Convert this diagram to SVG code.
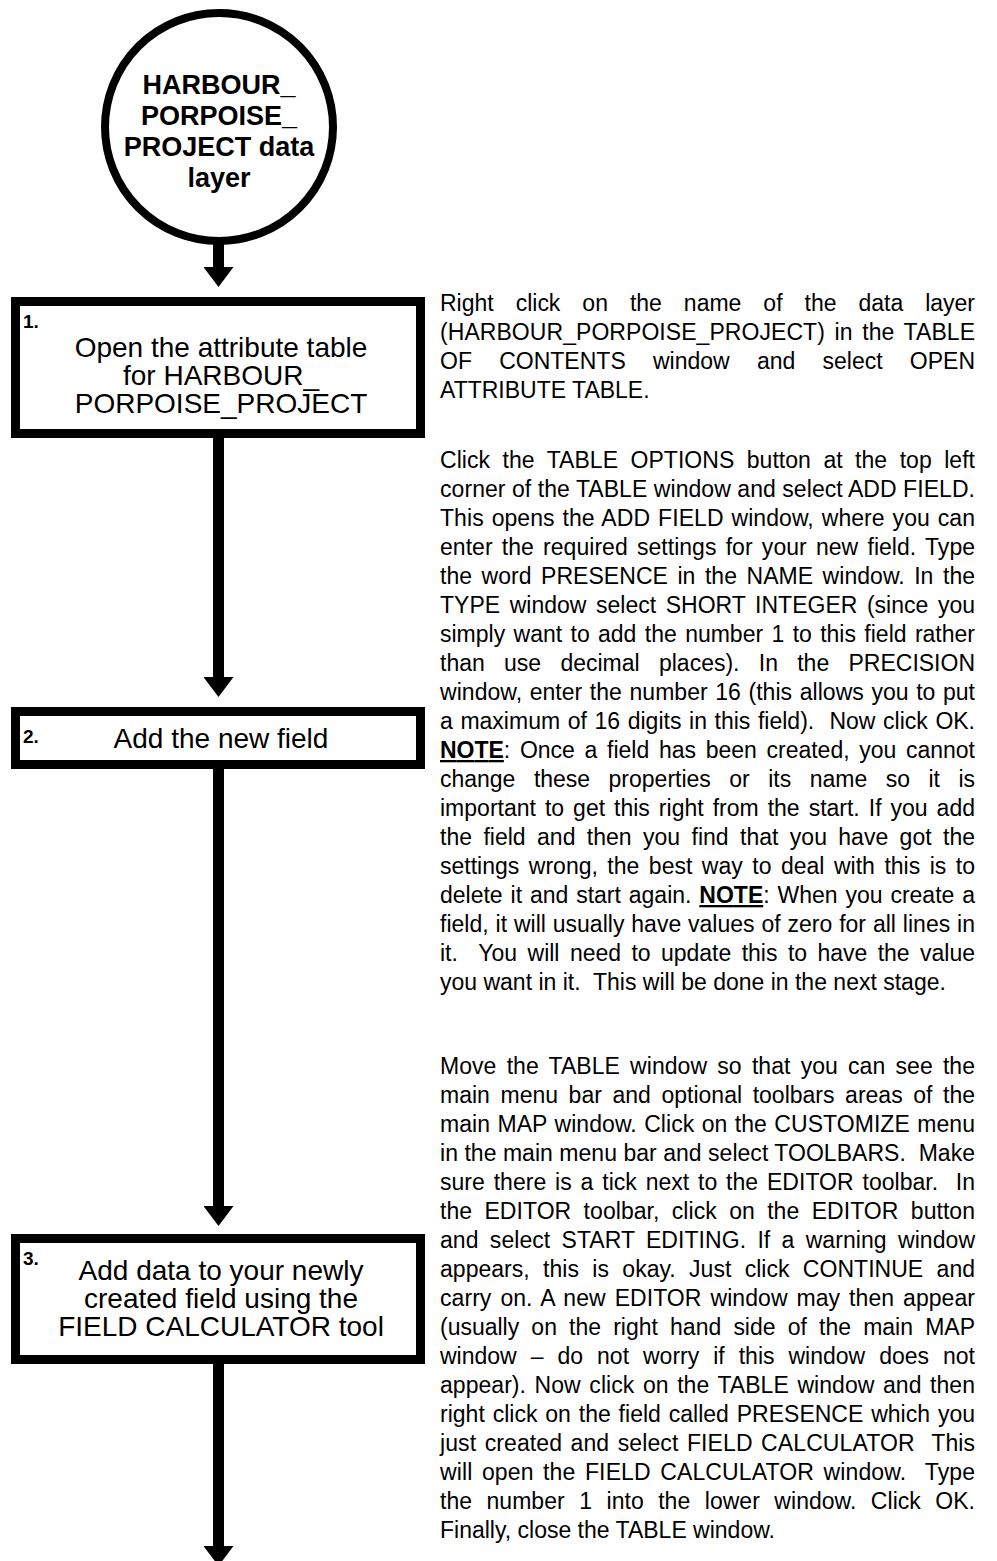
<svg xmlns="http://www.w3.org/2000/svg" width="997" height="1561" viewBox="0 0 997 1561">
  <style>
    .frame { fill: #ffffff; stroke: #000000; stroke-width: 9; }
    .ring { fill: #ffffff; stroke: #000000; stroke-width: 8; }
    .title { font-family: "Liberation Sans", Arial, sans-serif; font-size: 28px; fill: #000000; text-anchor: middle; }
    .title-bold { font-family: "Liberation Sans", Arial, sans-serif; font-size: 27px; font-weight: bold; fill: #000000; text-anchor: middle; }
    .num { font-family: "Liberation Sans", Arial, sans-serif; font-size: 19px; font-weight: bold; fill: #000000; }
    .body { font-family: "Liberation Sans", Arial, sans-serif; font-size: 23px; fill: #000000; }
    .note { font-weight: bold; text-decoration: underline; }
    .flow { stroke: #000000; stroke-width: 11; fill: none; marker-end: url(#head); }
  </style>
  <defs>
    <marker id="head" viewBox="0 0 20 30" refX="0" refY="15" markerWidth="20" markerHeight="30" markerUnits="userSpaceOnUse" orient="auto">
      <path d="M0,0 L20,15 L0,30 Z" fill="#000000"/>
    </marker>
  </defs>
  <rect width="997" height="1561" fill="#ffffff"/>

  <!-- flow connectors -->
  <g id="connectors">
    <line class="flow" x1="218.5" y1="241" x2="218.5" y2="267"/>
    <line class="flow" x1="218.5" y1="434" x2="218.5" y2="677"/>
    <line class="flow" x1="218.5" y1="765" x2="218.5" y2="1206"/>
    <line class="flow" x1="218.5" y1="1360" x2="218.5" y2="1546"/>
  </g>

  <!-- start node -->
  <g id="start">
    <circle class="ring" cx="219" cy="127" r="114"/>
    <text class="title-bold" x="219" y="94">HARBOUR_</text>
    <text class="title-bold" x="219" y="125">PORPOISE_</text>
    <text class="title-bold" x="219" y="156">PROJECT data</text>
    <text class="title-bold" x="219" y="187">layer</text>
  </g>

  <!-- step 1 -->
  <g id="step1">
    <rect class="frame" x="15.5" y="301.5" width="405" height="132"/>
    <text class="num" x="23" y="328">1.</text>
    <text class="title" x="221" y="357">Open the attribute table</text>
    <text class="title" x="221" y="385">for HARBOUR_</text>
    <text class="title" x="221" y="413">PORPOISE_PROJECT</text>
  </g>

  <!-- step 2 -->
  <g id="step2">
    <rect class="frame" x="15.5" y="711.5" width="405" height="53"/>
    <text class="num" x="23" y="743">2.</text>
    <text class="title" x="221" y="748">Add the new field</text>
  </g>

  <!-- step 3 -->
  <g id="step3">
    <rect class="frame" x="15.5" y="1238.5" width="405" height="121"/>
    <text class="num" x="23" y="1265">3.</text>
    <text class="title" x="221" y="1280">Add data to your newly</text>
    <text class="title" x="221" y="1308">created field using the</text>
    <text class="title" x="221" y="1336">FIELD CALCULATOR tool</text>
  </g>

  <!-- instructions for step 1 -->
  <g id="notes1" class="body">
    <text x="440" y="311" word-spacing="15.6" textLength="535" lengthAdjust="spacing">Right click on the name of the data layer</text>
    <text x="440" y="340" word-spacing="3.2" textLength="535" lengthAdjust="spacing">(HARBOUR_PORPOISE_PROJECT) in the TABLE</text>
    <text x="440" y="369" word-spacing="20.8" textLength="535" lengthAdjust="spacing">OF CONTENTS window and select OPEN</text>
    <text x="440" y="398">ATTRIBUTE TABLE.</text>
  </g>

  <!-- instructions for step 2 -->
  <g id="notes2" class="body">
    <text x="440" y="468" word-spacing="6" textLength="535" lengthAdjust="spacing">Click the TABLE OPTIONS button at the top left</text>
    <text x="440" y="497" textLength="535" lengthAdjust="spacing">corner of the TABLE window and select ADD FIELD.</text>
    <text x="440" y="526" word-spacing="1.5" textLength="535" lengthAdjust="spacing">This opens the ADD FIELD window, where you can</text>
    <text x="440" y="555" word-spacing="2.8" textLength="535" lengthAdjust="spacing">enter the required settings for your new field. Type</text>
    <text x="440" y="584" word-spacing="3.1" textLength="535" lengthAdjust="spacing">the word PRESENCE in the NAME window. In the</text>
    <text x="440" y="613" word-spacing="3.1" textLength="535" lengthAdjust="spacing">TYPE window select SHORT INTEGER (since you</text>
    <text x="440" y="642" word-spacing="2" textLength="535" lengthAdjust="spacing">simply want to add the number 1 to this field rather</text>
    <text x="440" y="671" word-spacing="12.9" textLength="535" lengthAdjust="spacing">than use decimal places). In the PRECISION</text>
    <text x="440" y="700" word-spacing="1.1" textLength="535" lengthAdjust="spacing">window, enter the number 16 (this allows you to put</text>
    <text x="440" y="729" word-spacing="1.2" textLength="535" lengthAdjust="spacing" xml:space="preserve">a maximum of 16 digits in this field).  Now click OK.</text>
    <text x="440" y="758" word-spacing="3.3" textLength="535" lengthAdjust="spacing"><tspan class="note">NOTE</tspan>: Once a field has been created, you cannot</text>
    <text x="440" y="787" word-spacing="12.1" textLength="535" lengthAdjust="spacing">change these properties or its name so it is</text>
    <text x="440" y="816" word-spacing="2.6" textLength="535" lengthAdjust="spacing">important to get this right from the start. If you add</text>
    <text x="440" y="845" word-spacing="5" textLength="535" lengthAdjust="spacing">the field and then you find that you have got the</text>
    <text x="440" y="874" word-spacing="3.1" textLength="535" lengthAdjust="spacing">settings wrong, the best way to deal with this is to</text>
    <text x="440" y="903" word-spacing="1.5" textLength="535" lengthAdjust="spacing">delete it and start again. <tspan class="note">NOTE</tspan>: When you create a</text>
    <text x="440" y="932" word-spacing="0.5" textLength="535" lengthAdjust="spacing">field, it will usually have values of zero for all lines in</text>
    <text x="440" y="961" word-spacing="4.1" textLength="535" lengthAdjust="spacing" xml:space="preserve">it.  You will need to update this to have the value</text>
    <text x="440" y="990" xml:space="preserve">you want in it.  This will be done in the next stage.</text>
  </g>

  <!-- instructions for step 3 -->
  <g id="notes3" class="body">
    <text x="440" y="1074" word-spacing="3.8" textLength="535" lengthAdjust="spacing">Move the TABLE window so that you can see the</text>
    <text x="440" y="1103" word-spacing="4.2" textLength="535" lengthAdjust="spacing">main menu bar and optional toolbars areas of the</text>
    <text x="440" y="1132" word-spacing="1" textLength="535" lengthAdjust="spacing">main MAP window. Click on the CUSTOMIZE menu</text>
    <text x="440" y="1161" textLength="535" lengthAdjust="spacing" xml:space="preserve">in the main menu bar and select TOOLBARS.  Make</text>
    <text x="440" y="1190" word-spacing="2.4" textLength="535" lengthAdjust="spacing" xml:space="preserve">sure there is a tick next to the EDITOR toolbar.  In</text>
    <text x="440" y="1219" word-spacing="5.9" textLength="535" lengthAdjust="spacing">the EDITOR toolbar, click on the EDITOR button</text>
    <text x="440" y="1248" word-spacing="4.8" textLength="535" lengthAdjust="spacing">and select START EDITING. If a warning window</text>
    <text x="440" y="1277" word-spacing="6.9" textLength="535" lengthAdjust="spacing">appears, this is okay. Just click CONTINUE and</text>
    <text x="440" y="1306" word-spacing="2.5" textLength="535" lengthAdjust="spacing">carry on. A new EDITOR window may then appear</text>
    <text x="440" y="1335" word-spacing="5.8" textLength="535" lengthAdjust="spacing">(usually on the right hand side of the main MAP</text>
    <text x="440" y="1364" word-spacing="7.6" textLength="535" lengthAdjust="spacing">window – do not worry if this window does not</text>
    <text x="440" y="1393" word-spacing="2.2" textLength="535" lengthAdjust="spacing">appear). Now click on the TABLE window and then</text>
    <text x="440" y="1422" word-spacing="1.5" textLength="535" lengthAdjust="spacing">right click on the field called PRESENCE which you</text>
    <text x="440" y="1451" word-spacing="2" textLength="535" lengthAdjust="spacing" xml:space="preserve">just created and select FIELD CALCULATOR  This</text>
    <text x="440" y="1480" word-spacing="3" textLength="535" lengthAdjust="spacing" xml:space="preserve">will open the FIELD CALCULATOR window.  Type</text>
    <text x="440" y="1509" word-spacing="8.1" textLength="535" lengthAdjust="spacing">the number 1 into the lower window. Click OK.</text>
    <text x="440" y="1538">Finally, close the TABLE window.</text>
  </g>
</svg>
